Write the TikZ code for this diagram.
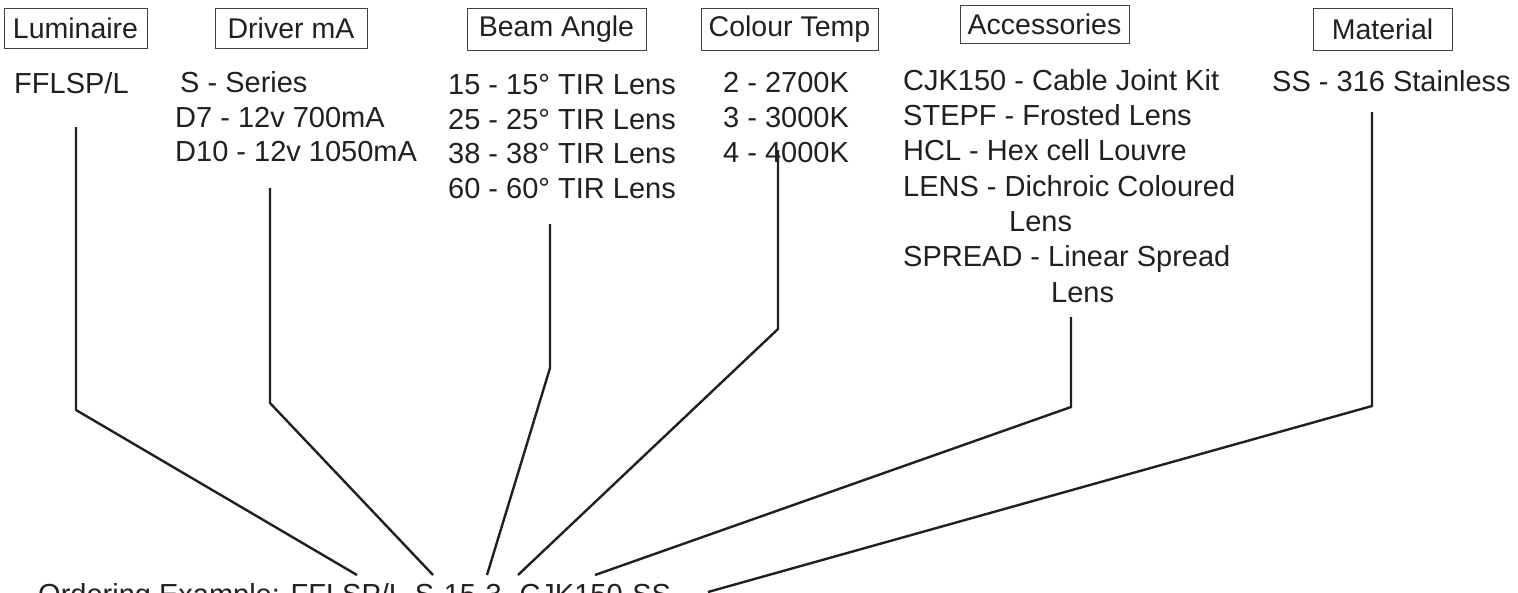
\documentclass[tikz,border=0pt]{standalone}
\usepackage{fontspec}
\setmainfont{Liberation Sans}
\definecolor{ink}{HTML}{231F20}
\begin{document}
\begin{tikzpicture}[x=1pt,y=-1pt,
  lst/.style={anchor=base west, inner sep=0pt, text=ink, font=\fontsize{29}{35}\selectfont},
  hdr/.style={draw=ink!85, line width=1pt, inner sep=0pt, text=ink, font=\fontsize{28.5}{34}\selectfont},
  lead/.style={draw=ink, line width=2.4pt, line join=miter}]

\useasboundingbox (0,0) rectangle (1518,592);
\clip (0,0) rectangle (1518,592);

% header boxes
\node[hdr, minimum width=143pt, minimum height=40pt] (hLum) at (75.5,28) {Luminaire};
\node[hdr, minimum width=152pt, minimum height=40pt] (hDrv) at (291,28) {Driver mA};
\node[hdr, minimum width=179pt, minimum height=42pt] (hBeam) at (556.5,29) {Beam Angle};
\node[hdr, minimum width=177pt, minimum height=42pt] (hCol) at (789.5,29) {Colour Temp};
\node[hdr, minimum width=169pt, minimum height=38pt] (hAcc) at (1044.5,24) {Accessories};
\node[hdr, minimum width=139pt, minimum height=42pt] (hMat) at (1382.5,29) {Material};

% lists
\node[lst] (lum1) at (14,93) {FFLSP/L};

\node[lst] (drv1) at (180,92) {S - Series};
\node[lst] (drv2) at (175,127) {D7 - 12v 700mA};
\node[lst] (drv3) at (175,161) {D10 - 12v 1050mA};

\node[lst] (bm1) at (448,94) {15 - 15° TIR Lens};
\node[lst] (bm2) at (448,129) {25 - 25° TIR Lens};
\node[lst] (bm3) at (448,163) {38 - 38° TIR Lens};
\node[lst] (bm4) at (448,198) {60 - 60° TIR Lens};

\node[lst] (ct1) at (723,92) {2 - 2700K};
\node[lst] (ct2) at (723,127) {3 - 3000K};
\node[lst] (ct3) at (723,162) {4 - 4000K};

\node[lst] (ac1) at (903,90) {CJK150 - Cable Joint Kit};
\node[lst] (ac2) at (903,125.3) {STEPF - Frosted Lens};
\node[lst] (ac3) at (903,160.6) {HCL - Hex cell Louvre};
\node[lst] (ac4) at (903,196) {LENS - Dichroic Coloured};
\node[lst] (ac5) at (1009,231.3) {Lens};
\node[lst] (ac6) at (903,266.6) {SPREAD - Linear Spread};
\node[lst] (ac7) at (1051,302) {Lens};

\node[lst] (mt1) at (1272,91) {SS - 316 Stainless};

% ordering example (cut by the lower edge)
\node[lst] (order) at (38,604) {Ordering Example: FFLSP/L-S-15-3- CJK150-SS};

% leader coordinates
\coordinate (lumA) at (76,127);   \coordinate (lumB) at (76,410);   \coordinate (lumC) at (357,575);
\coordinate (drvA) at (270,188);  \coordinate (drvB) at (270,403);  \coordinate (drvC) at (433,575);
\coordinate (bmA) at (550,224);   \coordinate (bmB) at (550,368);   \coordinate (bmC) at (487,575);
\coordinate (ctA) at (778,150);   \coordinate (ctB) at (778,329);   \coordinate (ctC) at (518,575);
\coordinate (acA) at (1071,317);  \coordinate (acB) at (1071,407);  \coordinate (acC) at (595,575);
\coordinate (mtA) at (1372,112);  \coordinate (mtB) at (1372,406);  \coordinate (mtC) at (708,592);

\draw[lead] (lumA) -- (lumB) -- (lumC);
\draw[lead] (drvA) -- (drvB) -- (drvC);
\draw[lead] (bmA) -- (bmB) -- (bmC);
\draw[lead] (ctA) -- (ctB) -- (ctC);
\draw[lead] (acA) -- (acB) -- (acC);
\draw[lead] (mtA) -- (mtB) -- (mtC);
\end{tikzpicture}
\end{document}
